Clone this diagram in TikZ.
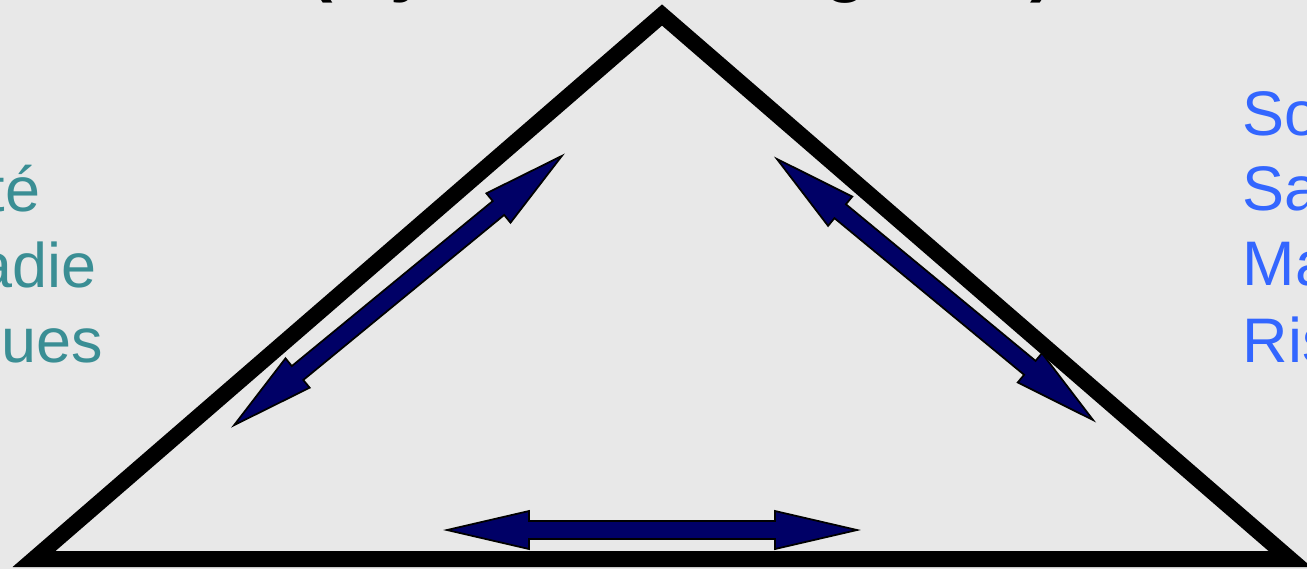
\documentclass[tikz,border=0pt]{standalone}
\usepackage{fontspec}
\setmainfont{Liberation Sans}
\definecolor{bgcol}{HTML}{E8E8E8}
\definecolor{arrowblue}{HTML}{000066}
\definecolor{tealtxt}{HTML}{3A8E94}
\definecolor{bluetxt}{HTML}{3366FF}
\newcommand{\dblarr}[4]{%
  \begin{scope}[shift={(#1,#2)}, rotate=#3]
    \pgfmathsetmacro{\hl}{#4}\pgfmathsetmacro{\hb}{#4-82}
    \draw[barrow] (-\hl,0) -- (-\hb,19) -- (-\hb,9) -- (\hb,9) -- (\hb,19) -- (\hl,0)
      -- (\hb,-19) -- (\hb,-9) -- (-\hb,-9) -- (-\hb,-19) -- cycle;
  \end{scope}}
\begin{document}
\begin{tikzpicture}[x=0.01cm, y=-0.01cm,
  tri/.style={draw=black, line width=0.16cm, line join=miter},
  barrow/.style={fill=arrowblue, draw=black, line width=0.5pt, line join=miter},
  lefttxt/.style={text=tealtxt, font=\fontsize{17.9}{21.6}\selectfont, anchor=base west, inner sep=0pt},
  righttxt/.style={text=bluetxt, font=\fontsize{17.9}{21.6}\selectfont, anchor=base west, inner sep=0pt},
  toptxt/.style={text=black, font=\bfseries\fontsize{20}{24}\selectfont, anchor=base west, inner sep=0pt}]
  \useasboundingbox (0,0) rectangle (1307,569);
  \clip (0,0) rectangle (1307,569);
  \fill[bgcol] (0,0) rectangle (1307,569);

  % title fragments (clipped at top)
  \node[toptxt] (t1) at (309,-12) {(};
  \node[toptxt] (t2) at (390,-12) {y};
  \node[toptxt] (t3) at (824,-12) {g};
  \node[toptxt] (t4) at (1030,-12) {)};

  % triangle
  \coordinate (apex) at (662,15);
  \coordinate (bl) at (34,559);
  \coordinate (br) at (1290,559);
  \draw[tri] (apex) -- (bl) -- (br) -- cycle;

  % double block arrows
  \dblarr{398}{290.5}{39.4}{212}
  \dblarr{935}{289.5}{-39.55}{205}
  \dblarr{652}{530}{0}{205}

  % left list (clipped)
  \node[lefttxt] (l1) at (-125,211) {Santé};
  \node[lefttxt] (l2) at (-125,287) {Maladie};
  \node[lefttxt] (l3) at (-125,362) {Risques};

  % right list (clipped)
  \node[righttxt] (r1) at (1242,135) {Social};
  \node[righttxt] (r2) at (1242,210) {Santé};
  \node[righttxt] (r3) at (1242,285) {Maladie};
  \node[righttxt] (r4) at (1242,362) {Risques};
\end{tikzpicture}
\end{document}
